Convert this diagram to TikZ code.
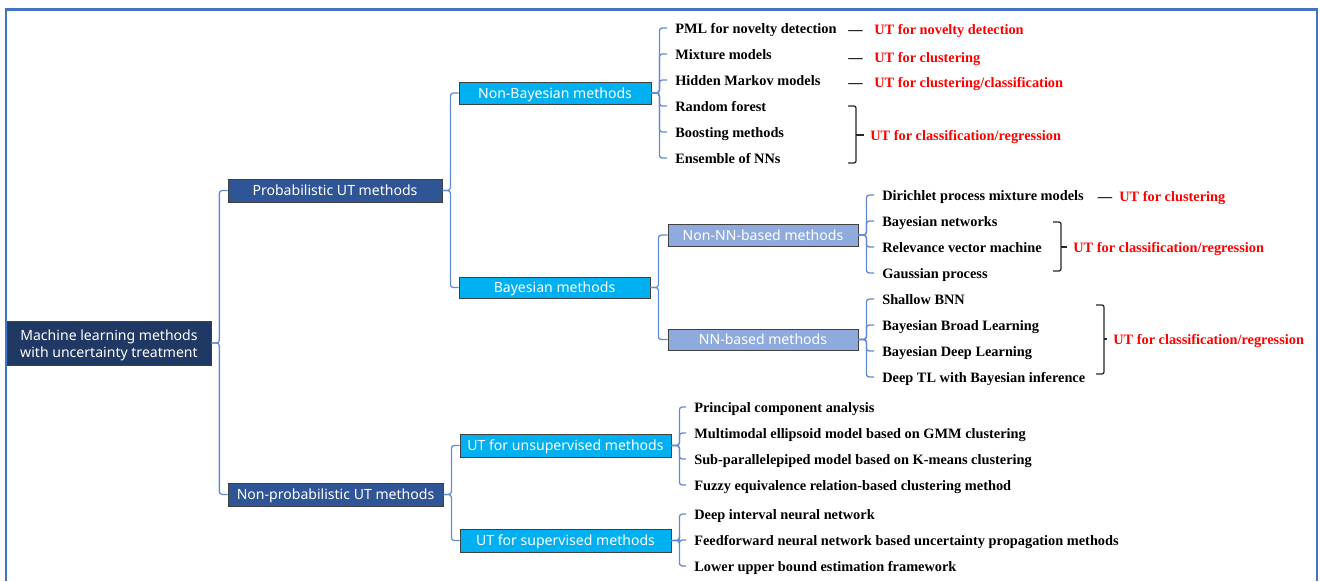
\documentclass[tikz,border=0pt]{standalone}
\usepackage{fontspec}
\setmainfont{Liberation Serif}
\newfontfamily\boxfont{Noto Sans}
\usepackage{xcolor}
\usetikzlibrary{positioning}
\definecolor{rootnavy}{RGB}{32,56,100}
\definecolor{probblue}{RGB}{47,85,151}
\definecolor{cyanbox}{RGB}{0,176,240}
\definecolor{paleblue}{RGB}{143,170,220}
\definecolor{linkblue}{RGB}{98,138,212}
\definecolor{frameblue}{RGB}{68,114,196}

\tikzset{
  box/.style={draw=black!75, line width=0.5pt, text=white, inner sep=0pt,
    text height=8.5pt, text depth=1pt,
    font=\boxfont\fontsize{10}{12.6}\selectfont},
  rootbox/.style={draw=black!75, line width=0.5pt, text=white, inner sep=0pt, align=center,
    font=\boxfont\fontsize{10}{12.6}\selectfont},
  leaf/.style={anchor=west, inner xsep=0.2cm, inner ysep=0pt,
    text height=8.5pt, text depth=0.5pt, font=\bfseries\fontsize{10.2}{12}\selectfont},
  note/.style={leaf, inner xsep=0.15cm, text=red},
  dashmark/.style={inner sep=0pt, text height=8.5pt, text depth=0.5pt,
    font=\bfseries\fontsize{10.2}{12}\selectfont},
  link/.style={draw=linkblue, line width=0.9pt, rounded corners=2pt},
  brace/.style={draw=black!85, line width=0.9pt, rounded corners=1.5pt},
}

\begin{document}
\begin{tikzpicture}[x=0.025cm, y=-0.025cm]
\useasboundingbox (0,0) rectangle (1320,581);

% Outer frame (open at the bottom)
\draw[frameblue, line width=2pt] (6,581) -- (6,9.5) -- (1317,9.5) -- (1317,581);

% === Boxes ===
\node[rootbox, fill=rootnavy, minimum width=5.1cm, minimum height=1.1cm] (root) at (109,343) {\rule{0pt}{11pt}Machine learning methods\\with uncertainty treatment};
\node[box, fill=probblue, minimum width=5.35cm, minimum height=0.575cm] (prob) at (335,190.5) {Probabilistic UT methods};
\node[box, fill=probblue, minimum width=5.375cm, minimum height=0.575cm] (nonprob) at (335.5,494.5) {Non-probabilistic UT methods};
\node[box, fill=cyanbox, minimum width=4.8cm, minimum height=0.55cm] (nonbayes) at (555,93) {Non-Bayesian methods};
\node[box, fill=cyanbox, minimum width=4.775cm, minimum height=0.53cm] (bayes) at (554.5,287.5) {Bayesian methods};
\node[box, fill=paleblue, minimum width=4.75cm, minimum height=0.55cm] (nonnn) at (763,235) {Non-NN-based methods};
\node[box, fill=paleblue, minimum width=4.75cm, minimum height=0.53cm] (nn) at (763,339.5) {NN-based methods};
\node[box, fill=cyanbox, minimum width=5.275cm, minimum height=0.575cm] (unsup) at (565.5,445.5) {UT for unsupervised methods};
\node[box, fill=cyanbox, minimum width=5.275cm, minimum height=0.575cm] (sup) at (565.5,540.5) {UT for supervised methods};

% === Tree links between boxes ===
\foreach \c in {prob,nonprob}
  \draw[link] (root.east) -- ++(8,0) |- (\c.west);
\foreach \c in {nonbayes,bayes}
  \draw[link] (prob.east) -- ++(8,0) |- (\c.west);
\foreach \c in {nonnn,nn}
  \draw[link] (bayes.east) -- ++(8,0) |- (\c.west);
\foreach \c in {unsup,sup}
  \draw[link] (nonprob.east) -- ++(8,0) |- (\c.west);

% === Non-Bayesian leaves ===
\foreach \i/\y/\txt in {1/28/PML for novelty detection, 2/54/Mixture models, 3/80/Hidden Markov models,
    4/106/Random forest, 5/132/Boosting methods, 6/158/Ensemble of NNs}{
  \node[leaf] (nb\i) at (667,\y) {\txt};
  \draw[link] (nonbayes.east) -- ++(8,0) |- (nb\i.west);
}

% === Non-NN-based leaves ===
\foreach \i/\y/\txt in {1/195/Dirichlet process mixture models, 2/221/Bayesian networks,
    3/247/Relevance vector machine, 4/273/Gaussian process}{
  \node[leaf] (nnb\i) at (874,\y) {\txt};
  \draw[link] (nonnn.east) -- ++(8,0) |- (nnb\i.west);
}

% === NN-based leaves ===
\foreach \i/\y/\txt in {1/299/Shallow BNN, 2/325/Bayesian Broad Learning,
    3/351/Bayesian Deep Learning, 4/377/Deep TL with Bayesian inference}{
  \node[leaf] (nnl\i) at (874,\y) {\txt};
  \draw[link] (nn.east) -- ++(8,0) |- (nnl\i.west);
}

% === Unsupervised leaves ===
\foreach \i/\y/\txt in {1/407/Principal component analysis, 2/433/Multimodal ellipsoid model based on GMM clustering,
    3/459/Sub-parallelepiped model based on K-means clustering, 4/485/Fuzzy equivalence relation-based clustering method}{
  \node[leaf] (us\i) at (686,\y) {\txt};
  \draw[link] (unsup.east) -- ++(8,0) |- (us\i.west);
}

% === Supervised leaves ===
\foreach \i/\y/\txt in {1/514/Deep interval neural network, 2/540/Feedforward neural network based uncertainty propagation methods,
    3/566/Lower upper bound estimation framework}{
  \node[leaf] (sv\i) at (686,\y) {\txt};
  \draw[link] (sup.east) -- ++(8,0) |- (sv\i.west);
}

% === UT annotations (red) ===
\node[dashmark] (d1) at (855.5,29) {\textemdash};
\node[dashmark] (d2) at (855.5,57) {\textemdash};
\node[dashmark] (d3) at (855.5,81.5) {\textemdash};
\node[note] (ut1) at (868,29) {UT for novelty detection};
\node[note] (ut2) at (868,57) {UT for clustering};
\node[note] (ut3) at (868,81.5) {UT for clustering/classification};

\node[note] (ut4) at (864,135) {UT for classification/regression};
\draw[brace] (848,106) -- (856,106) -- (856,163) -- (848,163);
\draw[brace] (856,135) -- (ut4.west);

\node[dashmark] (d5) at (1105,196) {\textemdash};
\node[note] (ut5) at (1113,196) {UT for clustering};

\node[note] (ut6) at (1067,247) {UT for classification/regression};
\draw[brace] (1053,222) -- (1061,222) -- (1061,271) -- (1053,271);
\draw[brace] (1061,247) -- (ut6.west);

\node[note] (ut7) at (1107,339) {UT for classification/regression};
\draw[brace] (1096,305) -- (1104,305) -- (1104,374) -- (1096,374);
\draw[brace] (1104,339) -- (ut7.west);

\end{tikzpicture}
\end{document}
